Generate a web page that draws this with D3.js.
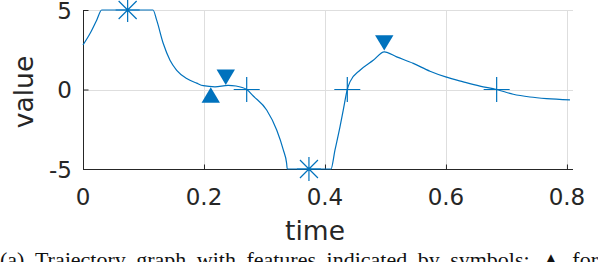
<!DOCTYPE html>
<html>
<head>
<meta charset="utf-8">
<script src="https://cdn.jsdelivr.net/npm/d3@7"></script>
<style>
  body { margin: 0; background: #fff; }
  svg { display: block; }
</style>
</head>
<body>
<svg width="598" height="262"></svg>
<script>
// trajectory
const curveTime = [0, 0.0116, 0.0226, 0.0309, 0.1157, 0.1218, 0.1327, 0.1438, 0.1549, 0.1714,
  0.1879, 0.1988, 0.2182, 0.2397, 0.2529, 0.2706, 0.2815, 0.3036, 0.3202, 0.3311, 0.3366,
  0.3377, 0.4099, 0.4165, 0.4248, 0.4302, 0.4369, 0.4413, 0.4579, 0.4798, 0.498, 0.5185,
  0.546, 0.5736, 0.5995, 0.6286, 0.6562, 0.6838, 0.7112, 0.7388, 0.7664, 0.805];
const curveValue = [2.8, 3.52, 4.36, 5, 5, 4.36, 2.89, 1.84, 1.21, 0.69,
  0.4, 0.24, 0.17, 0.26, 0.22, 0, -0.41, -1.29, -2.55, -3.8, -4.64,
  -5, -5, -3.82, -2.35, -1.3, 0, 0.48, 1.21, 1.84, 2.37, 2.05,
  1.64, 1.15, 0.79, 0.48, 0.21, 0, -0.3, -0.47, -0.57, -0.65];

// feature symbols
const plusTime = [0.2706, 0.4369, 0.6838];
const plusValue = [0, 0, 0];
const starTime = [0.0738, 0.3735];
const starValue = [5, -5];
const upTime = [0.2112];
const upValue = [-0.35];
const downTime = [0.236, 0.498];
const downValue = [0.77, 2.93];

const xTicks = [0, 0.2, 0.4, 0.6, 0.8];
const yTicks = [-5, 0, 5];
const xTickLabels = ["0", "0.2", "0.4", "0.6", "0.8"];
const yTickLabels = ["-5", "0", "5"];

const captionWords = ["(a)", "Trajectory", "graph", "with", "features", "indicated",
  "by", "symbols:", "\u25B2", "for"];

TrajectoryChart = function(_parentElement) {
  this.parentElement = _parentElement;
  this.initVis();
};

TrajectoryChart.prototype.initVis = function() {
  let vis = this;

  vis.svg = d3.select(vis.parentElement);
  vis.blue = "#0072bd";
  vis.ink = "#262626";

  vis.x = d3.scaleLinear().domain([0, 0.81]).range([83, 573]);
  vis.y = d3.scaleLinear().domain([-5, 5]).range([169, 10]);

  vis.renderVis();
};

TrajectoryChart.prototype.renderVis = function() {
  let vis = this;
  let x = vis.x, y = vis.y;

  // grid
  vis.svg.append("g")
    .selectAll("line")
    .data(xTicks.slice(1))
    .enter()
    .append("line")
    .attr("x1", d => Math.round(x(d)) + 0.5)
    .attr("x2", d => Math.round(x(d)) + 0.5)
    .attr("y1", y(5))
    .attr("y2", y(-5))
    .attr("stroke", "#dedede");

  vis.svg.append("g")
    .selectAll("line")
    .data(yTicks.slice(1))
    .enter()
    .append("line")
    .attr("x1", x(0))
    .attr("x2", x(0.81))
    .attr("y1", d => Math.round(y(d)) + 0.5)
    .attr("y2", d => Math.round(y(d)) + 0.5)
    .attr("stroke", "#dedede");

  // axes with inward ticks
  let xAxis = d3.axisBottom(x).tickValues(xTicks).tickSize(-5).tickFormat("");
  let yAxis = d3.axisLeft(y).tickValues(yTicks).tickSize(-5).tickFormat("");

  let gx = vis.svg.append("g")
    .attr("transform", "translate(0," + (Math.round(y(-5)) + 0.5) + ")")
    .call(xAxis);
  let gy = vis.svg.append("g")
    .attr("transform", "translate(" + (Math.round(x(0)) + 0.5) + ",0)")
    .call(yAxis);
  [gx, gy].forEach(function(g) {
    g.select(".domain").attr("stroke", vis.ink);
    g.selectAll(".tick line").attr("stroke", vis.ink);
  });
  gx.select(".domain").attr("d", "M" + x(0) + ",0H" + x(0.81));
  gy.select(".domain").attr("d", "M0," + y(5) + "V" + y(-5));

  // tick labels
  vis.svg.append("g")
    .selectAll("text")
    .data(xTicks)
    .enter()
    .append("text")
    .attr("x", d => x(d))
    .attr("y", 205)
    .attr("text-anchor", "middle")
    .attr("font-family", "DejaVu Sans")
    .attr("font-size", "23px")
    .attr("fill", vis.ink)
    .text((d, i) => xTickLabels[i]);

  vis.svg.append("g")
    .selectAll("text")
    .data(yTicks)
    .enter()
    .append("text")
    .attr("x", 72)
    .attr("y", d => y(d) + 8.5)
    .attr("text-anchor", "end")
    .attr("font-family", "DejaVu Sans")
    .attr("font-size", "23px")
    .attr("fill", vis.ink)
    .text((d, i) => yTickLabels[i]);

  // axis titles
  vis.svg.append("text")
    .attr("x", 315)
    .attr("y", 240)
    .attr("text-anchor", "middle")
    .attr("font-family", "DejaVu Sans")
    .attr("font-size", "26.5px")
    .attr("fill", vis.ink)
    .text("time");

  vis.svg.append("text")
    .attr("transform", "translate(33,92) rotate(-90)")
    .attr("text-anchor", "middle")
    .attr("font-family", "DejaVu Sans")
    .attr("font-size", "26.5px")
    .attr("fill", vis.ink)
    .text("value");

  // trajectory
  let line = d3.line()
    .x(d => x(d[0]))
    .y(d => y(d[1]))
    .curve(d3.curveMonotoneX);

  vis.svg.append("path")
    .datum(curveTime.map((t, i) => [t, curveValue[i]]))
    .attr("d", line)
    .attr("fill", "none")
    .attr("stroke", vis.blue)
    .attr("stroke-width", 1.2);

  // plus markers (zero crossings)
  vis.svg.append("g")
    .selectAll("path")
    .data(plusTime.map((t, i) => [t, plusValue[i]]))
    .enter()
    .append("path")
    .attr("d", function(d) {
      let cx = x(d[0]), cy = y(d[1]);
      return "M" + (cx - 13) + "," + cy + "H" + (cx + 13) +
        "M" + cx + "," + (cy - 12.5) + "V" + (cy + 12.5);
    })
    .attr("stroke", vis.blue)
    .attr("stroke-width", 1.2)
    .attr("fill", "none");

  // asterisks (saturation)
  vis.svg.append("g")
    .selectAll("path")
    .data(starTime.map((t, i) => [t, starValue[i]]))
    .enter()
    .append("path")
    .attr("d", function(d) {
      let cx = x(d[0]), cy = y(d[1]);
      return "M" + (cx - 12) + "," + cy + "H" + (cx + 12) +
        "M" + cx + "," + (cy - 12) + "V" + (cy + 12) +
        "M" + (cx - 9) + "," + (cy - 9) + "L" + (cx + 9) + "," + (cy + 9) +
        "M" + (cx - 9) + "," + (cy + 9) + "L" + (cx + 9) + "," + (cy - 9);
    })
    .attr("stroke", vis.blue)
    .attr("stroke-width", 1.2)
    .attr("fill", "none");

  // triangles (minimum / maximum)
  function triangle(d, dir) {
    let cx = x(d[0]), cy = y(d[1]);
    return "M" + cx + "," + (cy - 7.7 * dir) +
      "L" + (cx + 9.2) + "," + (cy + 7.7 * dir) +
      "L" + (cx - 9.2) + "," + (cy + 7.7 * dir) + "Z";
  }

  vis.svg.append("g")
    .selectAll("path")
    .data(upTime.map((t, i) => [t, upValue[i]]))
    .enter()
    .append("path")
    .attr("d", d => triangle(d, 1))
    .attr("fill", vis.blue);

  vis.svg.append("g")
    .selectAll("path")
    .data(downTime.map((t, i) => [t, downValue[i]]))
    .enter()
    .append("path")
    .attr("d", d => triangle(d, -1))
    .attr("fill", vis.blue);

  // caption, cut by the bottom edge, words spread across the width
  let cap = vis.svg.append("g");
  let words = cap.selectAll("text")
    .data(captionWords)
    .enter()
    .append("text")
    .attr("y", 267)
    .attr("font-family", "Liberation Serif")
    .attr("font-size", "22px")
    .attr("fill", "#111")
    .text(d => d);

  let widths = [];
  words.each(function() { widths.push(this.getComputedTextLength()); });
  let gap = (598 - d3.sum(widths)) / (widths.length - 1);
  let pos = 0;
  words.attr("x", function(d, i) {
    let p = pos;
    pos += widths[i] + gap;
    return p;
  });
};

new TrajectoryChart("svg");
</script>
</body>
</html>
